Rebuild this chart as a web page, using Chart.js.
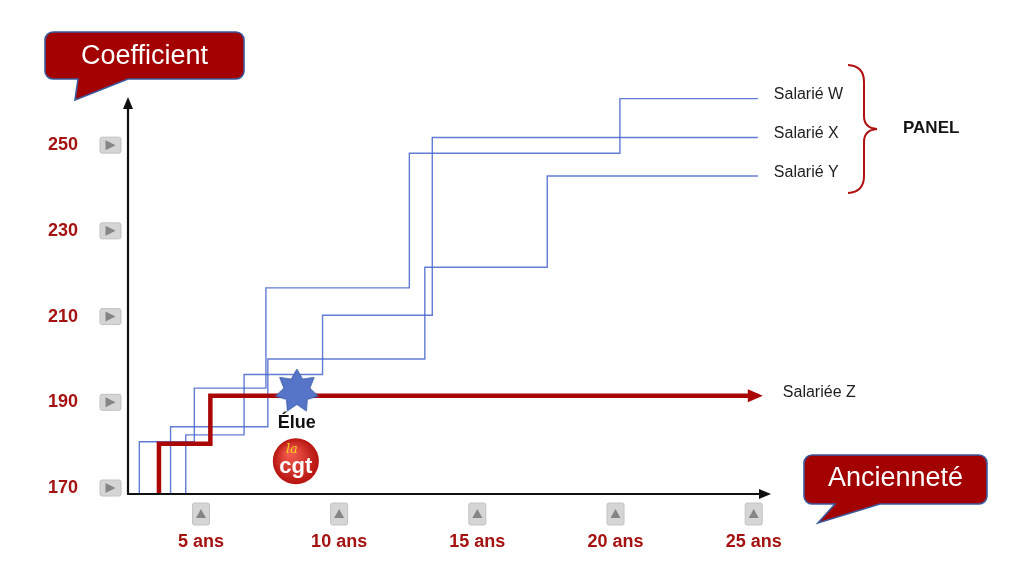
<!DOCTYPE html>
<html lang="fr">
<head>
<meta charset="utf-8">
<title>Coefficient selon l'ancienneté</title>
<script src="https://cdn.jsdelivr.net/npm/chart.js@4.4.1/dist/chart.umd.min.js"></script>
<style>
  html, body { margin: 0; padding: 0; background: #fff; }
  #wrap { width: 1024px; height: 576px; }
</style>
</head>
<body>
<div id="wrap"><canvas id="coefChart" width="1024" height="576"></canvas></div>
<script>
const FONT = '"Liberation Sans", Arial, Helvetica, sans-serif';
const TXT_RED = '#a51212';
const LINE_RED = '#aa0606';
const BLUE = 'rgba(70, 100, 205, 0.85)';

// ticks
const yearTicks = [5, 10, 15, 20, 25];
const coefTicks = [170, 190, 210, 230, 250];

// paliers : ancienneté (ans) où le coefficient change, et le nouveau coefficient
const wYears = [2.77, 4.76, 7.35, 12.54, 20.16, 25.15];
const wCoef  = [168.6, 180.8, 193.3, 216.7, 248.1, 260.9];
const xYears = [4.45, 6.56, 9.40, 13.37, 25.15];
const xCoef  = [168.6, 182.4, 196.5, 210.3, 251.8];
const yYears = [3.90, 7.42, 13.10, 17.53, 25.15];
const yCoef  = [168.6, 184.3, 200.1, 221.5, 242.8];
const zYears = [3.48, 5.34, 25.15];
const zCoef  = [168.6, 180.3, 191.5];

// élection de la salariée Z
const eluYear = [8.47];
const eluCoef = [192.6];

function toPoints(xs, ys) {
  return xs.map((v, i) => ({ x: v, y: ys[i] }));
}

function makeStar(r, n) {
  const c = document.createElement('canvas');
  c.width = c.height = 2 * r + 4;
  const g = c.getContext('2d');
  g.translate(r + 2, r + 2);
  g.beginPath();
  for (let i = 0; i < 2 * n; i++) {
    const rr = i % 2 ? r * 0.6 : r;
    const a = -Math.PI / 2 + i * Math.PI / n;
    g.lineTo(rr * Math.cos(a), rr * Math.sin(a));
  }
  g.closePath();
  g.fillStyle = '#5675c8';
  g.fill();
  g.strokeStyle = '#3f5cab';
  g.lineWidth = 1;
  g.stroke();
  return c;
}

function roundRect(ctx, x, y, w, h, r) {
  ctx.beginPath();
  ctx.moveTo(x + r, y);
  ctx.arcTo(x + w, y, x + w, y + h, r);
  ctx.arcTo(x + w, y + h, x, y + h, r);
  ctx.arcTo(x, y + h, x, y, r);
  ctx.arcTo(x, y, x + w, y, r);
  ctx.closePath();
}

function tickBox(ctx, x, y, w, h, dir) {
  roundRect(ctx, x, y, w, h, 2);
  ctx.fillStyle = '#d5d5d5';
  ctx.fill();
  ctx.strokeStyle = '#c2c2c2';
  ctx.lineWidth = 1;
  ctx.stroke();
  const cx = x + w / 2, cy = y + h / 2;
  ctx.beginPath();
  if (dir === 'right') {
    ctx.moveTo(cx - 5, cy - 5); ctx.lineTo(cx + 5, cy); ctx.lineTo(cx - 5, cy + 5);
  } else {
    ctx.moveTo(cx - 5, cy + 4); ctx.lineTo(cx, cy - 5); ctx.lineTo(cx + 5, cy + 4);
  }
  ctx.closePath();
  ctx.fillStyle = '#858585';
  ctx.fill();
}

function callout(ctx, x, y, w, h, tail, text, baseline) {
  const r = 8;
  ctx.beginPath();
  ctx.moveTo(x + r, y);
  ctx.lineTo(x + w - r, y);
  ctx.arcTo(x + w, y, x + w, y + r, r);
  ctx.lineTo(x + w, y + h - r);
  ctx.arcTo(x + w, y + h, x + w - r, y + h, r);
  ctx.lineTo(tail.right, y + h);
  ctx.lineTo(tail.tipX, tail.tipY);
  ctx.lineTo(tail.left, y + h);
  ctx.lineTo(x + r, y + h);
  ctx.arcTo(x, y + h, x, y + h - r, r);
  ctx.lineTo(x, y + r);
  ctx.arcTo(x, y, x + r, y, r);
  ctx.closePath();
  ctx.fillStyle = '#a30000';
  ctx.fill();
  ctx.strokeStyle = '#3d5a9e';
  ctx.lineWidth = 1.6;
  ctx.stroke();
  ctx.fillStyle = '#fff';
  ctx.font = '27px ' + FONT;
  ctx.textAlign = 'center';
  ctx.textBaseline = 'alphabetic';
  ctx.fillText(text, x + w / 2, baseline);
}

const decor = {
  id: 'decor',
  beforeDatasetsDraw(chart) {
    const { ctx, chartArea: a, scales: { x, y } } = chart;
    ctx.save();
    coefTicks.forEach(v => tickBox(ctx, a.left - 28, y.getPixelForValue(v) - 8, 21, 16, 'right'));
    yearTicks.forEach(v => tickBox(ctx, x.getPixelForValue(v) - 8.5, a.bottom + 9, 17, 22, 'up'));
    ctx.restore();
  },
  afterDatasetsDraw(chart) {
    const { ctx, chartArea: a } = chart;
    ctx.save();

    // axes avec flèches
    ctx.strokeStyle = '#111';
    ctx.fillStyle = '#111';
    ctx.lineWidth = 2.2;
    ctx.beginPath();
    ctx.moveTo(a.left, a.bottom);
    ctx.lineTo(a.left, a.top + 8);
    ctx.moveTo(a.left - 1, a.bottom);
    ctx.lineTo(a.right - 8, a.bottom);
    ctx.stroke();
    ctx.beginPath();
    ctx.moveTo(a.left, a.top - 1); ctx.lineTo(a.left - 5, a.top + 11); ctx.lineTo(a.left + 5, a.top + 11);
    ctx.closePath(); ctx.fill();
    ctx.beginPath();
    ctx.moveTo(a.right + 1, a.bottom); ctx.lineTo(a.right - 11, a.bottom - 5); ctx.lineTo(a.right - 11, a.bottom + 5);
    ctx.closePath(); ctx.fill();

    // étiquettes en bout de courbe
    ctx.font = '16px ' + FONT;
    ctx.textAlign = 'left';
    ctx.textBaseline = 'alphabetic';
    ctx.fillStyle = '#1e1e1e';
    chart.data.datasets.forEach((ds, i) => {
      if (!ds.endLabel) return;
      const pts = chart.getDatasetMeta(i).data;
      const last = pts[pts.length - 1];
      if (ds.arrow) {
        ctx.beginPath();
        ctx.moveTo(last.x + 5, last.y);
        ctx.lineTo(last.x - 10, last.y - 6.5);
        ctx.lineTo(last.x - 10, last.y + 6.5);
        ctx.closePath();
        ctx.fillStyle = LINE_RED;
        ctx.fill();
        ctx.fillStyle = '#1e1e1e';
      }
      ctx.fillText(ds.label, last.x + (ds.arrow ? 25 : 16), last.y + 1);
    });

    // accolade PANEL
    ctx.strokeStyle = '#b01010';
    ctx.lineWidth = 2;
    ctx.beginPath();
    ctx.moveTo(848, 65);
    ctx.quadraticCurveTo(864, 66, 864, 82);
    ctx.lineTo(864, 116);
    ctx.quadraticCurveTo(864, 128, 877, 129);
    ctx.quadraticCurveTo(864, 130, 864, 142);
    ctx.lineTo(864, 176);
    ctx.quadraticCurveTo(864, 192, 848, 193);
    ctx.stroke();
    ctx.fillStyle = '#151515';
    ctx.font = 'bold 17px ' + FONT;
    ctx.fillText('PANEL', 903, 133);

    // "Élue" + logo cgt sous l'étoile
    const star = chart.getDatasetMeta(0).data[0];
    const sx = star.x, sy = star.y;
    ctx.textAlign = 'center';
    ctx.font = 'bold 18px ' + FONT;
    ctx.fillStyle = '#111';
    ctx.fillText('Élue', sx, sy + 37);
    const lx = sx - 1, ly = sy + 70, lr = 23;
    const grad = ctx.createRadialGradient(lx - 6, ly - 8, 3, lx, ly, lr);
    grad.addColorStop(0, '#f0574a');
    grad.addColorStop(1, '#b5130f');
    ctx.beginPath();
    ctx.arc(lx, ly, lr, 0, Math.PI * 2);
    ctx.fillStyle = grad;
    ctx.fill();
    ctx.fillStyle = '#fff';
    ctx.font = 'bold 22px ' + FONT;
    ctx.fillText('cgt', lx, ly + 12);
    ctx.fillStyle = '#f3cf1a';
    ctx.font = 'italic 13px "DejaVu Serif", serif';
    ctx.fillText('la', lx - 4, ly - 8);

    // bulles de titre des axes
    callout(ctx, 45, 32, 199, 47, { right: 128, tipX: 75, tipY: 100, left: 78 }, 'Coefficient', 64);
    callout(ctx, 804, 455, 183, 49, { right: 880, tipX: 818, tipY: 523, left: 835 }, 'Ancienneté', 486);

    ctx.restore();
  }
};

const step = (label, xs, ys, color, width) => ({
  label,
  data: toPoints(xs, ys),
  borderColor: color,
  borderWidth: width,
  stepped: 'after',
  pointRadius: 0,
  fill: false,
  endLabel: true
});

new Chart(document.getElementById('coefChart'), {
  type: 'line',
  data: {
    datasets: [
      {
        type: 'scatter',
        label: 'Élue',
        data: toPoints(eluYear, eluCoef),
        pointStyle: makeStar(22, 7),
        pointRadius: 22,
        showLine: false
      },
      Object.assign(step('Salariée Z', zYears, zCoef, LINE_RED, 4.5), { arrow: true }),
      step('Salarié W', wYears, wCoef, BLUE, 1.4),
      step('Salarié X', xYears, xCoef, BLUE, 1.4),
      step('Salarié Y', yYears, yCoef, BLUE, 1.4)
    ]
  },
  options: {
    responsive: false,
    animation: false,
    events: [],
    layout: { padding: { top: 98, right: 254, left: 0, bottom: 0 } },
    plugins: { legend: { display: false }, tooltip: { enabled: false } },
    scales: {
      x: {
        type: 'linear',
        min: 2.36,
        max: 25.59,
        afterBuildTicks: s => { s.ticks = yearTicks.map(v => ({ value: v })); },
        afterFit: s => { s.height = 82; },
        grid: { display: false, drawTicks: false },
        border: { display: false },
        ticks: {
          padding: 37,
          autoSkip: false,
          maxRotation: 0,
          color: TXT_RED,
          font: { family: FONT, size: 18, weight: 'bold' },
          callback: v => v + ' ans'
        }
      },
      y: {
        type: 'linear',
        min: 168.6,
        max: 261,
        afterBuildTicks: s => { s.ticks = coefTicks.map(v => ({ value: v })); },
        afterFit: s => { s.width = 128; },
        grid: { display: false, drawTicks: false },
        border: { display: false },
        ticks: {
          padding: 50,
          color: TXT_RED,
          font: { family: FONT, size: 18, weight: 'bold' },
          callback: v => v
        }
      }
    }
  },
  plugins: [decor]
});
</script>
</body>
</html>
